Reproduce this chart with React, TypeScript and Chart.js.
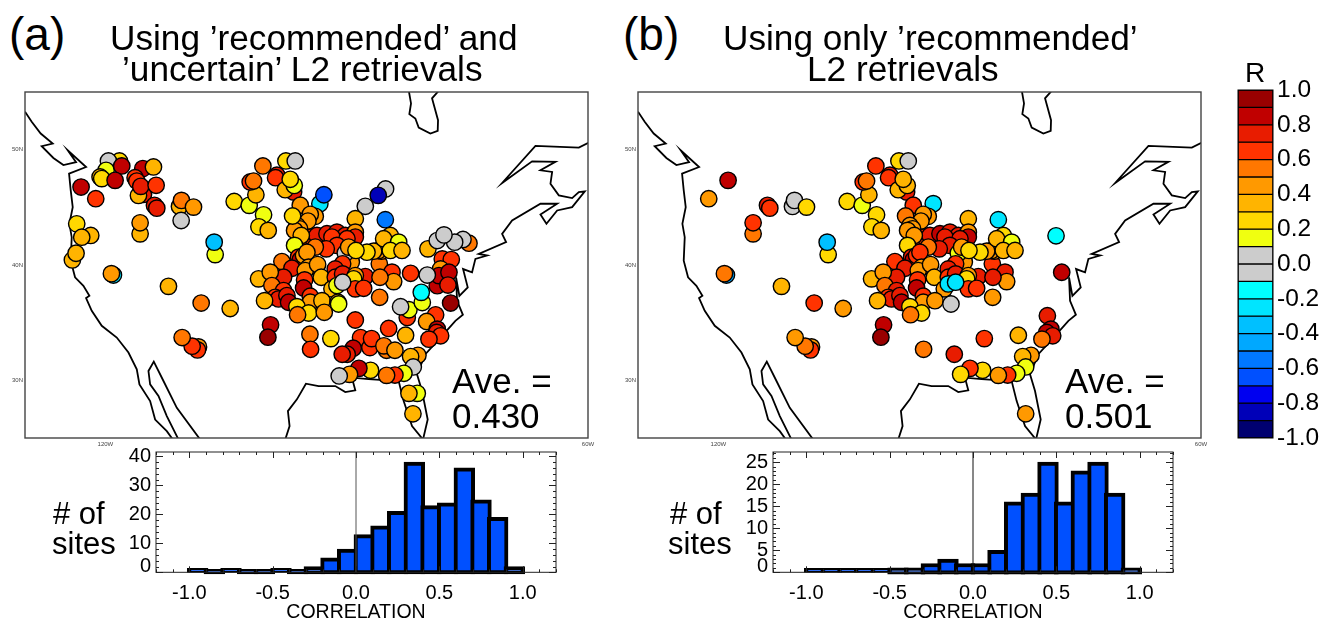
import React, { useEffect, useRef } from "react";
import { Chart, registerables } from "chart.js";

Chart.register(...registerables);

// ---------- DATA ----------
const colorBins = ["#990000","#C00000","#E81C00","#FF3300","#FF7700","#FF9900","#FFB400","#FFD800","#F0FF10","#CCCCCC","#CCCCCC","#00FFFF","#00E5FF","#00C0FF","#00A8FF","#0078FF","#0050FF","#0000F0","#0000B8","#000070"];
const colorTicks = [1,0.8,0.6,0.4,0.2,0,-0.2,-0.4,-0.6,-0.8,-1];
const binTops = [1,0.9,0.8,0.7,0.6,0.5,0.4,0.3,0.2,0.1,0,-0.1,-0.2,-0.3,-0.4,-0.5,-0.6,-0.7,-0.8,-0.9];

const histCentres = [-0.95,-0.85,-0.75,-0.65,-0.55,-0.45,-0.35,-0.25,-0.15,-0.05,0.05,0.15,0.25,0.35,0.45,0.55,0.65,0.75,0.85,0.95];
const histA = [0,1,0,1,1,0,1,2,5,8,13,16,21,38,23,24,36,25,19,2];
const histB = [0,0,0,0,0,1,1,2,3,2,2,5,16,18,25,16,23,25,18,1];
const histXTicks = [-1,-0.5,0,0.5,1];
const histYTicksA = [2,10,20,30,40];
const histYTicksB = [1.4,5,10,15,20,25];

const mapLatTicks = [50,40,30];
const mapLonTicks = [-120,-60];

// Longitudes below were read against a provisional grid; this factor ties them to the 120W/60W marks.
const lonStretch = 1.037;

const westLon = [-127.5,-126.7,-125.62,-124.18,-125.5,-124.1,-122.9,-121.38,-122.38,-120.18,-122.22,-122.02,-121.78,-122.18,-121.9,-122.02,-121.5,-120.5,-119.78,-120.18,-119.5,-118.3,-116.5,-115.1,-114.1,-113.78,-112.5,-111.9,-110.5,-109.78];
const westLat = [53.29,52.42,51.4,50.53,50.3,49.28,48.67,48.91,49.95,48.5,47.92,46.47,45.02,43.57,42.41,40.38,38.93,38.2,37.33,37.13,36.03,34.73,33.71,32.41,30.95,29.65,28.2,26.6,25.59,24.87];
const bajaLon = [-106.5,-109.3,-110.9,-112.06,-112.7,-112.5,-111.5,-110.5,-109.1];
const bajaLat = [24.87,27.62,29.94,31.62,30.81,29.65,28.64,26.9,24.87];
const eastLon = [-96.3,-95.78,-95.98,-94.9,-93.82,-92.3,-90.3,-89.1,-87.9,-88.3,-86.3,-82.7,-82.1,-81.1,-79.78,-79.22,-79.9,-80.5,-79.5,-77.5,-75.9,-75.0,-75.7,-75.82,-75.42,-74.42,-74.98,-73.9,-73.5,-72.1,-73.1,-69.82,-70.3,-69.1,-65.7,-63.7,-65.7,-64.98,-63.7,-61.9,-60.38,-61.1,-61.9,-63.5,-64.5,-64.3,-65.7,-63.9,-66.7,-70.3,-66.3,-61.1,-59.9];
const eastLat = [24.87,26.03,27.33,28.35,29.71,29.5,29.5,28.98,29.13,30.23,30.1,29.94,28.2,26.03,24.87,26.6,29.07,30.52,32.26,33.85,35.16,35.68,36.9,38.93,37.33,38.06,39.65,39.37,40.53,40.82,40.96,41.98,42.7,43.86,45.31,45.31,44.38,43.57,44.73,45.02,46.38,46.33,45.8,46.04,47.05,48.07,48.21,48.94,48.99,47.11,50.33,50.18,50.62];
const bayLon = [-81.5,-81.22,-81.42,-80.7,-80.3,-78.9,-78.02,-77.98,-78.7,-77.82];
const bayLat = [55.17,54.01,53.08,52.7,51.92,51.4,51.63,52.56,54.45,55.17];

const lonA = [
-116.9,-117.14,-120.78,-119.02,-119.62,-121.3,-120.7,-121.82,-121.38,-116.18,
-117.5,-117.78,-118.5,-118.3,-115.9,-116.7,-113.38,-114.3,-114.1,-112.1,
-113.3,-113.9,-113.62,-111.78,-111.98,-111.7,-108.98,-108.74,-107.3,-108.78,
-113.7,-113.7,-104.7,-104.82,-110.3,-106.38,-102.9,-106.7,-106.82,-107.46,
-108.66,-98.06,-98.38,-93.34,-93.26,-102.42,-100.62,-99.82,-100.5,-100.1,
-98.98,-97.3,-97.46,-95.3,-96.3,-95.22,-95.7,-96.22,-95.1,-98.9,
-99.46,-98.34,-94.5,-92.15,-91.67,-86.7,-84.27,-85.15,-87.9,-84.3,
-92.7,-93.3,-93.58,-94.9,-94.58,-95.18,-95.42,-93.5,-93.1,-92.5,
-91.3,-90.1,-89.1,-87.9,-87.9,-90.7,-88.9,-94.38,-90.1,-91.38,
-92.7,-95.18,-94.7,-94.5,-94.1,-93.7,-96.7,-95.5,-93.5,-93.9,
-92.42,-99.5,-96.5,-98.1,-97.9,-93.98,-91.98,-88.38,-89.1,-89.42,
-90.3,-90.3,-89.42,-86.7,-87.9,-88.1,-85.02,-83.5,-83.3,-84.94,
-88.7,-84.78,-85.1,-85.7,-86.5,-87.82,-83.7,-84.5,-82.7,-83.7,
-82.3,-90.7,-90.1,-87.9,-86.9,-89.42,-96.5,-97.5,-97.1,-96.1,
-95.9,-94.1,-93.3,-93.3,-98.78,-91.9,-94.9,-93.5,-94.82,-91.62,
-89.98,-89.9,-84.98,-83.9,-87.9,-79.19,-74.27,-74.99,-78.07,-75.99,
-77.27,-77.47,-76.39,-81.27,-77.67,-78.07,-77.87,-76.67,-76.79,-79.27,
-76.47,-81.67,-81.47,-82.47,-79.87,-79.99,-78.27,-79.35,-78.07,-78.15,
-77.67,-79.07,-81.87,-90.83,-87.27,-86.15,-85.95,-84.15,-84.47,-83.15,
-88.15,-88.87,-89.47,-80.39,-81.27,-80.95,-82.07,-83.15,-84.15,-86.07,
-87.47,-88.59,-89.83,-80.47,-81.47,-80.99];
const latA = [
39.13,39.25,46.76,45.75,42.56,43.57,42.41,40.44,41.02,49.02,
49.02,48.21,47.63,47.49,48.59,47.34,48.36,47.57,47.28,48.5,
46.12,46.03,46.82,46.91,45.17,44.93,45.08,45.6,45.02,43.86,
42.7,43.66,40.9,41.98,38.15,36.7,36.23,32.9,32.64,32.96,
33.71,34.81,33.74,34.0,32.69,45.51,45.17,46.09,47.2,47.28,
48.59,47.78,47.57,46.33,46.53,46.9,47.43,49.02,49.02,44.35,
43.31,43.0,45.18,45.31,46.09,45.09,46.59,46.04,44.01,43.93,
44.22,44.39,43.81,43.43,43.14,43.0,44.25,42.13,42.42,42.56,
42.71,42.85,42.56,42.85,42.42,42.42,42.28,42.56,41.7,41.4,
41.55,41.7,40.68,40.45,40.82,41.11,40.3,39.72,39.81,39.52,
40.04,38.8,38.94,39.38,38.22,38.71,38.94,40.25,41.03,40.1,
39.66,38.94,39.23,39.0,39.08,38.8,40.1,39.38,38.56,38.94,
41.55,41.2,41.26,41.2,41.11,41.26,42.56,42.28,41.98,41.26,
41.26,37.93,38.22,37.93,37.98,38.51,37.78,37.2,37.06,37.35,
36.77,38.01,37.29,36.77,36.91,36.91,36.39,35.84,35.69,35.9,
36.77,36.62,37.2,34.5,35.23,41.4,41.89,42.21,42.12,41.98,
42.61,40.53,40.47,39.28,39.66,38.21,39.08,39.37,38.26,39.13,
36.7,35.45,36.12,36.38,36.75,37.63,35.68,35.1,34.44,34.15,
33.86,33.57,33.91,33.62,33.71,32.84,33.62,32.61,32.99,32.61,
32.78,32.26,32.26,32.17,32.06,31.16,30.61,30.46,30.43,30.87,
31.04,30.52,30.38,28.87,28.87,27.1];
const rA = [
-0.25,0.45,0.85,0.65,0.35,0.25,0.35,0.35,0.35,0.25,
0.05,0.15,0.35,0.25,0.85,0.85,0.85,0.65,0.65,0.35,
0.75,0.35,0.75,0.65,0.75,0.75,0.35,0.55,0.45,0.05,
0.35,0.45,0.15,-0.35,0.35,0.55,0.35,0.45,0.65,0.65,
0.55,0.85,0.95,0.55,0.65,0.25,0.15,0.35,0.65,0.55,
0.55,0.75,0.65,0.75,0.35,0.15,0.25,0.25,0.05,0.15,
0.25,0.35,0.45,-0.25,-0.65,0.05,0.05,-0.85,0.35,-0.55,
0.45,0.45,0.45,0.45,0.45,0.45,0.25,0.75,0.65,0.75,
0.75,0.75,0.75,0.45,0.75,0.65,0.65,0.35,0.65,0.65,
0.55,0.15,0.65,0.85,0.45,0.45,0.55,0.75,0.45,0.45,
0.45,0.35,0.75,0.45,0.55,0.65,0.35,0.45,0.05,0.65,
0.75,0.65,0.75,0.75,0.45,0.25,0.55,0.65,0.45,0.55,
0.45,0.45,0.45,0.35,0.25,0.25,0.35,0.35,0.15,0.25,
0.35,0.35,0.15,0.65,0.65,0.05,0.65,0.65,0.75,0.75,
0.85,0.85,0.65,0.45,0.35,0.35,0.25,0.25,0.55,0.45,
0.35,0.15,0.55,0.65,0.65,0.35,0.55,0.05,0.05,0.05,
0.05,0.65,0.65,0.65,0.45,0.85,0.85,0.85,0.75,0.05,
0.95,0.65,0.15,0.05,0.15,-0.15,0.65,0.45,0.85,0.75,
0.65,0.65,0.35,0.25,0.65,0.65,0.65,0.55,0.55,0.45,
0.85,0.75,0.75,0.45,0.35,0.05,0.15,0.65,0.55,0.25,
0.85,0.45,0.05,0.15,0.35,0.35];

const lonB = [
-116.9,-117.14,-116.7,-119.02,-111.98,-111.7,-108.98,-108.74,-107.3,-113.7,
-113.7,-104.7,-104.82,-110.3,-106.38,-102.9,-106.7,-106.82,-107.46,-108.66,
-98.06,-98.38,-93.26,-102.42,-100.62,-99.82,-100.5,-100.1,-98.98,-97.3,
-97.46,-95.3,-96.3,-95.22,-95.7,-96.22,-95.1,-98.9,-99.46,-98.34,
-94.5,-92.1,-87.9,-84.3,-92.7,-93.3,-93.58,-95.42,-94.9,-94.58,
-95.18,-93.5,-93.1,-92.5,-91.3,-90.1,-89.1,-87.9,-87.9,-90.7,
-88.9,-94.38,-90.1,-91.38,-92.7,-95.18,-94.7,-94.5,-94.1,-93.7,
-96.7,-95.5,-93.5,-93.9,-92.42,-99.5,-96.5,-98.1,-97.9,-93.98,
-91.98,-88.38,-89.1,-89.42,-90.3,-90.3,-89.42,-86.7,-87.9,-88.1,
-85.02,-83.5,-83.3,-84.94,-88.7,-84.78,-85.1,-85.7,-86.5,-87.82,
-83.7,-84.5,-82.7,-83.7,-82.3,-90.78,-90.3,-87.9,-86.9,-89.42,
-96.5,-97.5,-97.1,-96.1,-95.9,-94.1,-93.3,-93.3,-98.78,-91.9,
-94.9,-93.5,-94.82,-89.98,-84.98,-77.38,-76.7,-78.42,-78.0,-78.5,
-77.78,-79.07,-81.9,-85.98,-89.58,-80.38,-81.38,-81.02,-82.1,-83.18,
-84.3,-86.18,-87.7,-88.82,-81.02];
const latB = [
39.13,39.25,47.34,45.75,45.17,44.93,45.08,45.6,45.02,42.7,
43.66,40.9,41.98,38.15,36.7,36.23,32.9,32.64,32.96,33.71,
34.81,33.74,32.69,45.51,45.17,46.09,47.2,47.28,48.59,47.78,
47.57,46.33,46.53,46.9,47.43,49.02,49.02,44.35,43.31,43.0,
45.18,45.32,44.01,43.93,44.22,44.39,43.81,44.25,43.43,43.14,
43.0,42.13,42.42,42.56,42.71,42.85,42.56,42.85,42.42,42.42,
42.28,42.56,41.7,41.4,41.55,41.7,40.68,40.45,40.82,41.11,
40.3,39.72,39.81,39.52,40.04,38.8,38.94,39.38,38.22,38.71,
38.94,40.25,41.03,40.1,39.66,38.94,39.23,39.0,39.08,38.8,
40.1,39.38,38.56,38.94,41.55,41.2,41.26,41.2,41.11,41.26,
42.56,42.28,41.98,41.26,41.26,37.93,38.36,37.93,37.98,38.51,
37.78,37.2,37.06,37.35,36.77,38.01,37.29,36.77,36.91,36.91,
36.39,35.84,35.69,36.62,37.2,42.53,39.37,35.6,34.44,34.15,
33.86,33.57,33.91,33.62,32.26,32.17,32.06,31.16,30.61,30.46,
30.43,30.87,31.04,30.52,27.1];
const rB = [
-0.45,0.55,0.85,0.45,0.75,0.65,0.05,0.05,0.25,0.55,
0.65,0.25,-0.35,0.35,0.65,0.45,0.45,0.65,0.55,0.45,
0.85,0.95,0.55,0.25,0.15,0.35,0.65,0.55,0.65,0.75,
0.65,0.75,0.35,0.35,0.35,0.25,0.05,0.25,0.25,0.35,
0.65,-0.25,0.35,-0.25,0.45,0.45,0.45,0.55,0.45,0.45,
0.45,0.75,0.65,0.75,0.85,0.75,0.75,0.45,0.85,0.75,
0.75,0.45,0.75,0.75,0.55,0.25,0.75,0.85,0.65,0.65,
0.65,0.75,0.45,0.45,0.45,0.35,0.75,0.45,0.55,0.65,
0.35,0.45,0.15,0.65,0.75,0.65,0.75,0.75,0.45,0.25,
0.65,0.75,0.45,0.75,0.45,0.45,0.45,0.45,0.25,0.25,
0.25,0.35,0.15,0.35,0.35,0.45,-0.25,0.65,0.65,-0.25,
0.75,0.65,0.75,0.75,0.85,0.85,0.65,0.45,0.35,0.45,
0.25,0.25,0.55,0.05,0.45,-0.15,0.85,0.75,0.85,0.85,
0.75,0.55,0.35,0.65,0.75,0.45,0.35,0.15,0.15,0.65,
0.45,0.25,0.65,0.25,0.45];

// ---------- HELPERS ----------
const FONT = "'Liberation Sans', Arial, sans-serif";
const stretchLon = (v: number) => -60 + (v + 60) * lonStretch;
const colorOf = (r: number) => colorBins[Math.max(0, Math.min(19, Math.floor((1 - r) * 10)))];
const pairs = (xs: number[], ys: number[]) => xs.map((x, i) => ({ x: stretchLon(x), y: ys[i] }));

const fixedBox = (size: number) => (s: any) => {
  if (s.isHorizontal()) s.height = size; else s.width = size;
  s.paddingLeft = s.paddingRight = s.paddingTop = s.paddingBottom = 0;
};
const noGrid = { display: false, drawTicks: false, offset: false };

function mapFrame(color: string, width: number) {
  return {
    id: "frame",
    afterDraw(chart: any) {
      const { ctx, chartArea: a } = chart;
      ctx.save();
      ctx.strokeStyle = color;
      ctx.lineWidth = width;
      ctx.strokeRect(a.left, a.top, a.right - a.left, a.bottom - a.top);
      ctx.restore();
    },
  };
}

const idlTicks = (yMajor: number, yMinor: number, yMax: number) => ({
  id: "idlTicks",
  afterDraw(chart: any) {
    const { ctx, chartArea: a, scales } = chart;
    ctx.save();
    ctx.strokeStyle = "#222";
    ctx.lineWidth = 1;
    ctx.beginPath();
    for (let i = -12; i <= 12; i++) {
      const px = Math.round(scales.x.getPixelForValue(i / 10)) + 0.5;
      const len = i % 5 === 0 ? 6 : 3;
      ctx.moveTo(px, a.bottom); ctx.lineTo(px, a.bottom - len);
      ctx.moveTo(px, a.top); ctx.lineTo(px, a.top + len);
    }
    for (let v = 0; v <= yMax; v += yMinor) {
      const py = Math.round(scales.y.getPixelForValue(v)) + 0.5;
      const len = v % yMajor === 0 ? 7 : 3;
      ctx.moveTo(a.left, py); ctx.lineTo(a.left + len, py);
      ctx.moveTo(a.right, py); ctx.lineTo(a.right - len, py);
    }
    ctx.stroke();
    ctx.strokeRect(a.left, a.top, a.right - a.left, a.bottom - a.top);
    ctx.restore();
  },
});

function makeMap(c: HTMLCanvasElement, lon: number[], lat: number[], r: number[]) {
  const line = (xs: number[], ys: number[]) => ({
    type: "line", data: pairs(xs, ys), borderColor: "#000", borderWidth: 1.8,
    pointRadius: 0, tension: 0, fill: false,
  });
  return new Chart(c, {
    type: "scatter",
    data: {
      datasets: [
        {
          data: pairs(lon, lat),
          pointRadius: 8.2,
          pointHoverRadius: 8.2,
          pointBorderWidth: 1.4,
          pointBorderColor: "#000",
          pointBackgroundColor: r.map(colorOf),
        } as any,
        line(westLon, westLat), line(bajaLon, bajaLat), line(eastLon, eastLat), line(bayLon, bayLat),
      ],
    },
    options: {
      responsive: false, animation: false,
      layout: { autoPadding: false, padding: { left: 0, right: 12, top: 7, bottom: 0 } },
      plugins: { legend: { display: false }, tooltip: { enabled: false } },
      scales: {
        x: {
          type: "linear", min: -130, max: -60, afterFit: fixedBox(17),
          afterBuildTicks: (s: any) => { s.ticks = mapLonTicks.map((value) => ({ value })); },
          grid: noGrid, border: { display: false },
          ticks: { autoSkip: false, maxRotation: 0, padding: 3, color: "#444", font: { family: FONT, size: 6 }, callback: (v: any) => `${-v}W` },
        },
        y: {
          type: "linear", min: 25, max: 55, afterFit: fixedBox(25),
          afterBuildTicks: (s: any) => { s.ticks = mapLatTicks.map((value) => ({ value })); },
          grid: noGrid, border: { display: false },
          ticks: { autoSkip: false, padding: 2, color: "#444", font: { family: FONT, size: 6 }, callback: (v: any) => `${v}N` },
        },
      },
    } as any,
    plugins: [mapFrame("#444", 1.4)],
  } as any);
}

function makeHist(c: HTMLCanvasElement, counts: number[], yMax: number, yTicks: number[], labelStep: number, yMinor: number, base: number, zeroColor: string) {
  return new Chart(c, {
    type: "bar",
    data: {
      datasets: [
        {
          type: "line",
          data: [{ x: 0, y: 0 }, { x: 0, y: yMax }],
          borderColor: zeroColor, borderWidth: 1, pointRadius: 0, order: 1,
        },
        {
          data: histCentres.map((x, i) => ({ x, y: counts[i] })),
          backgroundColor: "#0050FF", borderColor: "#000", borderWidth: 4,
          borderSkipped: false, barThickness: 20.75, minBarLength: 4, base, clip: false, order: 2,
        },
      ],
    } as any,
    options: {
      responsive: false, animation: false,
      layout: { autoPadding: false, padding: { left: 0, right: 14, top: 7, bottom: 0 } },
      plugins: { legend: { display: false }, tooltip: { enabled: false } },
      scales: {
        x: {
          type: "linear", min: -1.2, max: 1.2, offset: false,
          afterBuildTicks: (s: any) => { s.ticks = histXTicks.map((value) => ({ value })); },
          afterFit: (s: any) => { s.height = 52.7; s.paddingLeft = s.paddingRight = 0; },
          grid: noGrid, border: { display: false },
          ticks: { autoSkip: false, maxRotation: 0, padding: 9, color: "#000", font: { family: FONT, size: 20 }, callback: (v: any) => Number(v).toFixed(1) },
          title: { display: true, text: "CORRELATION", color: "#000", font: { family: FONT, size: 19.5 }, padding: { top: 0, bottom: 1 } },
        },
        y: {
          type: "linear", min: 0, max: yMax, afterFit: fixedBox(56),
          afterBuildTicks: (s: any) => { s.ticks = yTicks.map((value) => ({ value })); },
          grid: noGrid, border: { display: false },
          ticks: { autoSkip: false, padding: 5, color: "#000", font: { family: FONT, size: 20 }, callback: (v: any) => String(Math.round(v / labelStep) * labelStep) },
        },
      },
    } as any,
    plugins: [idlTicks(labelStep, yMinor, yMax)],
  } as any);
}

function makeColorbar(c: HTMLCanvasElement) {
  return new Chart(c, {
    type: "bar",
    data: {
      labels: ["R"],
      datasets: colorBins.map((color, i) => ({
        data: [[binTops[i] - 0.1, binTops[i]]],
        backgroundColor: color, borderColor: "#000", borderWidth: 1, borderSkipped: false,
        barPercentage: 1, categoryPercentage: 1, grouped: false,
      })),
    } as any,
    options: {
      responsive: false, animation: false,
      layout: { autoPadding: false, padding: { left: 8, right: 0, top: 10, bottom: 22 } },
      plugins: { legend: { display: false }, tooltip: { enabled: false } },
      scales: {
        x: { display: false },
        y: {
          type: "linear", position: "right", min: -1, max: 1, afterFit: fixedBox(60),
          afterBuildTicks: (s: any) => { s.ticks = colorTicks.map((value) => ({ value })); },
          grid: noGrid, border: { display: false },
          ticks: { autoSkip: false, padding: 4, color: "#000", font: { family: FONT, size: 24.5 }, callback: (v: any) => Number(v).toFixed(1) },
        },
      },
    } as any,
    plugins: [mapFrame("#000", 1)],
  } as any);
}

const Txt = ({ x, y, s, children }: { x: number; y: number; s: number; children: React.ReactNode }) => (
  <div style={{ position: "absolute", left: x, top: y, fontFamily: FONT, fontSize: s, lineHeight: 1, whiteSpace: "nowrap", color: "#000" }}>{children}</div>
);

export default function App() {
  const mapA = useRef<HTMLCanvasElement>(null);
  const mapB = useRef<HTMLCanvasElement>(null);
  const hA = useRef<HTMLCanvasElement>(null);
  const hB = useRef<HTMLCanvasElement>(null);
  const bar = useRef<HTMLCanvasElement>(null);

  useEffect(() => {
    const charts = [
      makeMap(mapA.current!, lonA, latA, rA),
      makeMap(mapB.current!, lonB, latB, rB),
      makeHist(hA.current!, histA, 41.5, histYTicksA, 10, 2, -0.6, "#555"),
      makeHist(hB.current!, histB, 27.3, histYTicksB, 5, 1, -0.45, "#111"),
      makeColorbar(bar.current!),
    ];
    return () => charts.forEach((ch) => ch.destroy());
  }, []);

  const abs = (left: number, top: number): React.CSSProperties => ({ position: "absolute", left, top, display: "block" });

  return (
    <div style={{ position: "absolute", left: 0, top: 0, width: 1333, height: 620, overflow: "hidden", background: "#fff" }}>
      <canvas ref={mapA} width={600} height={370} style={abs(0, 85)} />
      <canvas ref={mapB} width={600} height={370} style={abs(613, 85)} />
      <canvas ref={hA} width={470} height={180} style={abs(100, 445)} />
      <canvas ref={hB} width={470} height={180} style={abs(716.5, 445)} />
      <canvas ref={bar} width={103} height={380} style={abs(1230, 80)} />

      <Txt x={9} y={11} s={46}>(a)</Txt>
      <Txt x={110} y={20} s={35.2}>Using ’recommended’ and</Txt>
      <Txt x={122} y={51} s={35.2}>’uncertain’ L2 retrievals</Txt>
      <Txt x={623} y={11} s={46}>(b)</Txt>
      <Txt x={723} y={20} s={35.2}>Using only ’recommended’</Txt>
      <Txt x={807} y={51} s={35.2}>L2 retrievals</Txt>
      <Txt x={452} y={363} s={35}>Ave. =</Txt>
      <Txt x={452} y={398} s={35}>0.430</Txt>
      <Txt x={1065} y={363} s={35}>Ave. =</Txt>
      <Txt x={1065} y={398} s={35}>0.501</Txt>
      <Txt x={53} y={498} s={31}># of</Txt>
      <Txt x={52} y={528} s={31}>sites</Txt>
      <Txt x={670} y={498} s={31}># of</Txt>
      <Txt x={668} y={528} s={31}>sites</Txt>
      <Txt x={1245} y={59} s={28}>R</Txt>
    </div>
  );
}
